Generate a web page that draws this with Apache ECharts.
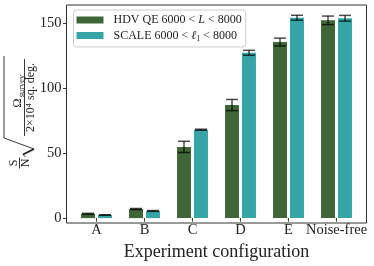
<!DOCTYPE html>
<html>
<head>
<meta charset="utf-8">
<script src="https://cdn.jsdelivr.net/npm/echarts@6/dist/echarts.min.js"></script>
<style>
html,body{margin:0;padding:0;background:#fff;}
#chart{width:374px;height:266px;}
</style>
</head>
<body>
<div id="chart"></div>
<script>
// ---- data ----
const categories = ['A', 'B', 'C', 'D', 'E', 'Noise-free'];
const seriesNames = ['HDV QE 6000 < L < 8000', 'SCALE 6000 < ℓ1 < 8000'];
const hdvValues = [3.3, 7.0, 54.8, 87.0, 135.5, 152.2];
const hdvErrors = [0.4, 0.4, 4.3, 4.3, 3.0, 3.3];
const scaleValues = [2.4, 5.5, 68.0, 127.2, 154.2, 153.8];
const scaleErrors = [0.2, 0.3, 0.4, 1.9, 1.9, 2.2];
const yTicks = [0, 50, 100, 150];
const yMax = 164;
const xLabel = 'Experiment configuration';

const FONT = 'Liberation Serif';
const GREEN = '#3f6636';
const TEAL = '#37a4a6';

const chart = echarts.init(document.getElementById('chart'), null, {renderer: 'canvas'});

function errData(vals, errs) {
  return vals.map((v, i) => [i, v, errs[i]]);
}
function errSeries(name, vals, errs, side) {
  return {
    type: 'custom',
    name: name + '_err',
    xAxisIndex: 1, yAxisIndex: 1,
    z: 5,
    silent: true,
    data: errData(vals, errs),
    renderItem: function (params, api) {
      const i = api.value(0), v = api.value(1), e = api.value(2);
      const band = api.size([1, 0])[0];
      const off = side * band * 0.177;
      const hi = api.coord([i, v + e]);
      const lo = api.coord([i, v - e]);
      const x = hi[0] + off;
      const cap = 6;
      const st = {stroke: 'rgba(0,0,0,0.7)', lineWidth: 1.5};
      return {
        type: 'group',
        children: [
          {type: 'line', shape: {x1: x, y1: hi[1], x2: x, y2: lo[1]}, style: st},
          {type: 'line', shape: {x1: x - cap, y1: hi[1], x2: x + cap, y2: hi[1]}, style: st},
          {type: 'line', shape: {x1: x - cap, y1: lo[1], x2: x + cap, y2: lo[1]}, style: st}
        ]
      };
    }
  };
}

const LF = 12;
const richLegend = {
  t: {fontFamily: FONT, fontSize: LF, color: '#222'},
  i: {fontFamily: FONT, fontSize: LF, fontStyle: 'italic', color: '#222'},
  s: {fontFamily: FONT, fontSize: 8, color: '#222', verticalAlign: 'bottom', padding: [7, 0, 0, 0]}
};

function legendFmt(name) {
  if (name === seriesNames[0]) return '{t|HDV QE 6000 < }{i|L}{t| < 8000}';
  return '{t|SCALE 6000 < }{i|ℓ}{s|1}{t| < 8000}';
}

const txt = (s, u, v, size) => ({
  type: 'text', x: u, y: v,
  style: {text: s, fontFamily: FONT, fontSize: size, fill: '#222',
    align: 'center', verticalAlign: 'middle'}
});

const option = {
  backgroundColor: '#fff',
  animation: false,
  grid: [
    {left: 66.5, top: 5, width: 300, height: 218, show: true, borderColor: '#333', borderWidth: 1, backgroundColor: 'transparent'},
    {left: 72.5, top: 5, width: 288, height: 218}
  ],
  legend: {
    data: seriesNames,
    orient: 'vertical',
    left: 73.5, top: 10,
    itemWidth: 27, itemHeight: 7, itemGap: 3.5,
    icon: 'rect',
    backgroundColor: 'rgba(255,255,255,0.85)',
    borderColor: '#cccccc', borderWidth: 1, borderRadius: 3,
    padding: [4, 4, 4, 3],
    formatter: legendFmt,
    textStyle: {fontFamily: FONT, fontSize: LF, padding: [0, 0, 0, 5], rich: richLegend}
  },
  xAxis: [
    {gridIndex: 0, type: 'value', show: false, min: 0, max: 1},
    {
      gridIndex: 1, type: 'category', data: categories, boundaryGap: true,
      axisLine: {show: false},
      axisTick: {show: true, alignWithLabel: true, length: 3.5, lineStyle: {color: '#333'}},
      axisLabel: {fontFamily: FONT, fontSize: 14.5, color: '#222', margin: 5, interval: 0},
      name: xLabel, nameLocation: 'middle', nameGap: 20,
      nameTextStyle: {fontFamily: FONT, fontSize: 18, color: '#222'}
    }
  ],
  yAxis: [
    {gridIndex: 0, type: 'value', show: false, min: 0, max: 1},
    {
      gridIndex: 1, type: 'value', min: 0, max: yMax, interval: 50, offset: 6,
      splitLine: {show: false},
      axisLine: {show: false},
      axisTick: {show: true, length: 3.5, customValues: yTicks, lineStyle: {color: '#333'}},
      axisLabel: {fontFamily: FONT, fontSize: 14.5, color: '#222', margin: 5, customValues: yTicks}
    }
  ],
  series: [
    {
      type: 'bar', name: seriesNames[0], xAxisIndex: 1, yAxisIndex: 1,
      data: hdvValues, barWidth: 14, barGap: '21%',
      itemStyle: {color: GREEN}
    },
    {
      type: 'bar', name: seriesNames[1], xAxisIndex: 1, yAxisIndex: 1,
      data: scaleValues, barWidth: 14, barGap: '21%',
      itemStyle: {color: TEAL}
    },
    errSeries(seriesNames[0], hdvValues, hdvErrors, -1),
    errSeries(seriesNames[1], scaleValues, scaleErrors, 1)
  ],
  graphic: [
    {
      type: 'group', x: 0, y: 170, rotation: Math.PI / 2,
      children: [
        txt('S', 7, 14, 12),
        {type: 'line', shape: {x1: 1.5, y1: 19.5, x2: 12.5, y2: 19.5}, style: {stroke: '#222', lineWidth: 0.9}},
        txt('N', 7, 25.5, 12),
        {type: 'polyline', shape: {points: [[13, 25.5], [15.5, 23]]}, style: {stroke: '#222', lineWidth: 0.9, fill: null}},
        {type: 'line', shape: {x1: 15.5, y1: 23, x2: 21, y2: 34}, style: {stroke: '#222', lineWidth: 1.9}},
        {type: 'polyline', shape: {points: [[21, 34], [32, 4], [114, 4]]}, style: {stroke: '#222', lineWidth: 0.9, fill: null}},
        txt('Ω', 67, 17.5, 12.5),
        txt('survey', 84, 21.5, 8.5),
        {type: 'line', shape: {x1: 34, y1: 24.5, x2: 111, y2: 24.5}, style: {stroke: '#222', lineWidth: 0.9}},
        txt('2×10⁴ sq. deg.', 72.5, 31, 12)
      ]
    }
  ]
};
chart.setOption(option);
</script>
</body>
</html>
